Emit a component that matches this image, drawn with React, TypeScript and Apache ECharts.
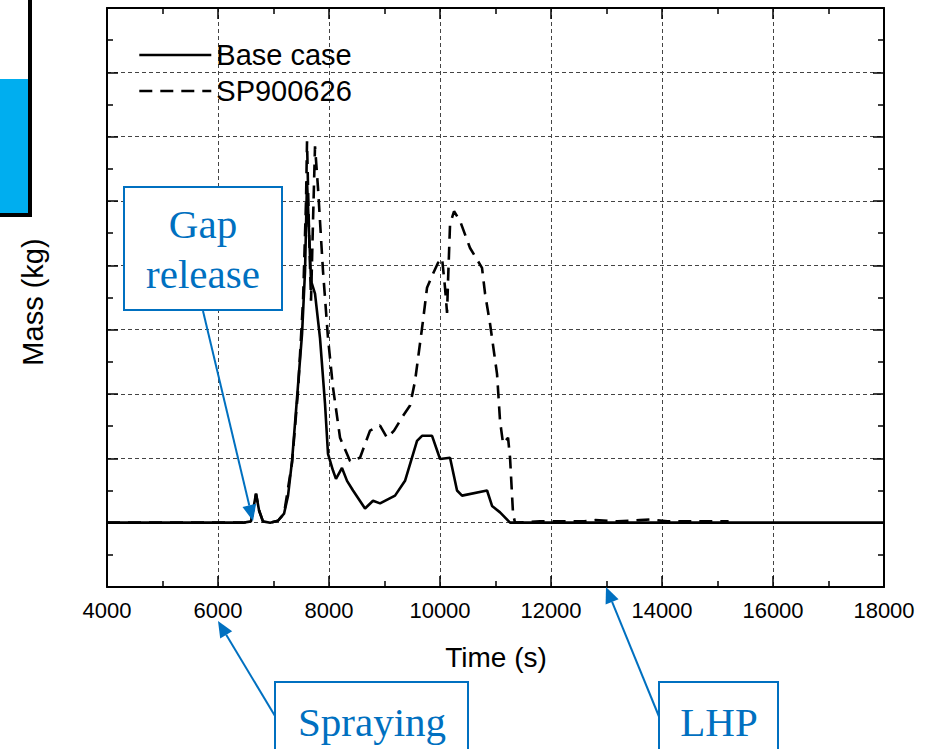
import React, { useEffect, useRef } from "react";
import * as echarts from "echarts";

const baseTime = [4000, 6450, 6595, 6685, 6740, 6810, 6940, 7080, 7190, 7262, 7334, 7424, 7514, 7568, 7604, 7640, 7676, 7748, 7838, 7928, 7982, 8072, 8126, 8234, 8325, 8433, 8649, 8793, 8920, 9190, 9370, 9586, 9676, 9857, 10001, 10181, 10307, 10397, 10848, 10938, 11082, 11262, 18000];
const baseMass = [0, 0, 0.02, 0.45, 0.19, 0.02, 0, 0.03, 0.14, 0.42, 0.96, 1.94, 2.93, 3.91, 5.31, 4.53, 3.76, 3.56, 2.87, 1.85, 1.07, 0.81, 0.68, 0.85, 0.65, 0.5, 0.22, 0.34, 0.3, 0.42, 0.65, 1.27, 1.35, 1.35, 0.99, 1.01, 0.5, 0.42, 0.5, 0.26, 0.16, 0, 0];

const spTime = [4000, 6450, 6595, 6685, 6740, 6810, 6940, 7080, 7190, 7334, 7442, 7532, 7586, 7604, 7640, 7676, 7712, 7748, 7802, 7892, 7982, 8072, 8199, 8379, 8559, 8739, 8920, 9046, 9172, 9334, 9460, 9550, 9694, 9766, 9874, 9965, 10037, 10091, 10127, 10145, 10181, 10253, 10361, 10541, 10757, 10812, 10902, 11028, 11082, 11136, 11226, 11262, 11316, 11352, 11800, 12600, 12800, 13200, 13600, 13800, 14100, 14600, 15200];
const spMass = [0, 0, 0.02, 0.45, 0.19, 0.02, 0, 0.03, 0.14, 0.93, 2.05, 3.45, 5.0, 5.93, 4.53, 3.45, 4.69, 5.85, 5.2, 3.91, 2.87, 2.1, 1.32, 0.96, 1.01, 1.43, 1.51, 1.32, 1.43, 1.66, 1.82, 2.2, 3.14, 3.65, 3.87, 4.04, 4.11, 3.65, 3.26, 3.76, 4.64, 4.84, 4.69, 4.27, 3.96, 3.56, 3.09, 2.31, 1.58, 1.23, 1.32, 1.01, 0.14, 0, 0.02, 0.02, 0.04, 0.02, 0.04, 0.05, 0.02, 0.02, 0.02];

const seriesNames = ["Base case", "SP900626"];
const xRange = { min: 4000, max: 18000, interval: 2000 };
const yRange = { min: -1, max: 8, interval: 1 };

const BLUE = "#0070C0";
const SANS = "Arial, 'Liberation Sans', sans-serif";
const SERIF = "'Times New Roman', 'Liberation Serif', serif";

function zip(a: number[], b: number[]) {
  return a.map((t, i) => [t, b[i]]);
}

export default function App() {
  const ref = useRef<HTMLDivElement>(null);
  useEffect(() => {
    if (!ref.current) return;
    const chart = echarts.init(ref.current, null, { renderer: "svg" });
    const tickMajor = { show: true, inside: true, length: 11, lineStyle: { color: "#000", width: 1.5 } };
    const tickMinor = { show: true, splitNumber: 2, length: 6, lineStyle: { color: "#000", width: 1.5 } };
    const axisLine = { show: true, onZero: false, lineStyle: { color: "#000", width: 2 } };
    const grid = { type: [4, 3], color: "#444", width: 1 };
    chart.setOption({
      animation: false,
      backgroundColor: "#fff",
      grid: { left: 107, right: 45, top: 8, bottom: 162, containLabel: false },
      legend: {
        show: true,
        orient: "vertical",
        left: 138,
        top: 40,
        padding: 0,
        itemWidth: 72,
        itemHeight: 30,
        itemGap: 6,
        itemStyle: { opacity: 0 },
        lineStyle: { width: 2.6 },
        textStyle: { fontFamily: SANS, fontSize: 29, color: "#000", lineHeight: 30 },
        data: seriesNames,
      },
      xAxis: [
        {
          type: "value",
          position: "bottom",
          ...xRange,
          axisLine,
          axisTick: tickMajor,
          minorTick: tickMinor,
          axisLabel: { show: true, margin: 12, fontFamily: SANS, fontSize: 22, color: "#000", formatter: (v: number) => String(v) },
          splitLine: { show: true, lineStyle: grid },
        },
        {
          type: "value",
          position: "top",
          ...xRange,
          axisLine,
          axisTick: tickMajor,
          minorTick: tickMinor,
          axisLabel: { show: false },
          splitLine: { show: false },
        },
      ],
      yAxis: [
        {
          type: "value",
          position: "left",
          ...yRange,
          axisLine,
          axisTick: tickMajor,
          minorTick: tickMinor,
          axisLabel: { show: false },
          splitLine: { show: true, lineStyle: grid },
        },
        {
          type: "value",
          position: "right",
          ...yRange,
          axisLine,
          axisTick: tickMajor,
          minorTick: tickMinor,
          axisLabel: { show: false },
          splitLine: { show: false },
        },
      ],
      series: [
        {
          name: seriesNames[0],
          type: "line",
          data: zip(baseTime, baseMass),
          showSymbol: false,
          symbol: "none",
          lineStyle: { color: "#000", width: 2.6, type: "solid" },
          itemStyle: { color: "#000" },
          z: 3,
        },
        {
          name: seriesNames[1],
          type: "line",
          data: zip(spTime, spMass),
          showSymbol: false,
          symbol: "none",
          lineStyle: { color: "#000", width: 2.6, type: [13, 8] },
          itemStyle: { color: "#000" },
          z: 4,
        },
      ],
      graphic: [
        // top-left partial box
        { type: "rect", shape: { x: -10, y: -10, width: 40, height: 225 }, style: { fill: "#fff", stroke: "#000", lineWidth: 4 }, z: 10 },
        { type: "rect", shape: { x: 0, y: 79, width: 28, height: 134 }, style: { fill: "#00AEEF" }, z: 11 },
        // axis titles
        { type: "text", x: 496, y: 657, style: { text: "Time (s)", font: `28px ${SANS}`, fill: "#000", align: "center", verticalAlign: "middle" }, z: 10 },
        { type: "text", x: 33, y: 302, rotation: Math.PI / 2, style: { text: "Mass (kg)", font: `29px ${SANS}`, fill: "#000", align: "center", verticalAlign: "middle" }, z: 10 },
        // Gap release annotation
        { type: "line", shape: { x1: 203, y1: 311, x2: 249.3, y2: 505.4 }, style: { stroke: BLUE, lineWidth: 2 }, z: 20 },
        { type: "polygon", shape: { points: [[253, 521], [242.5, 507], [256.1, 503.8]] }, style: { fill: BLUE }, z: 20 },
        { type: "rect", shape: { x: 124, y: 187, width: 158, height: 123 }, style: { fill: "#fff", stroke: BLUE, lineWidth: 2 }, z: 20 },
        { type: "text", x: 203, y: 224, style: { text: "Gap", font: `41px ${SERIF}`, fill: BLUE, align: "center", verticalAlign: "middle" }, z: 21 },
        { type: "text", x: 203, y: 274, style: { text: "release", font: `41px ${SERIF}`, fill: BLUE, align: "center", verticalAlign: "middle" }, z: 21 },
        // Spraying annotation
        { type: "line", shape: { x1: 275, y1: 716, x2: 226.2, y2: 634.8 }, style: { stroke: BLUE, lineWidth: 2 }, z: 20 },
        { type: "polygon", shape: { points: [[218, 621], [232.2, 631.2], [220.2, 638.4]] }, style: { fill: BLUE }, z: 20 },
        { type: "rect", shape: { x: 275, y: 682, width: 193, height: 90 }, style: { fill: "#fff", stroke: BLUE, lineWidth: 2 }, z: 20 },
        { type: "text", x: 372, y: 722, style: { text: "Spraying", font: `41px ${SERIF}`, fill: BLUE, align: "center", verticalAlign: "middle" }, z: 21 },
        // LHP annotation
        { type: "line", shape: { x1: 659.6, y1: 718, x2: 612.1, y2: 601.8 }, style: { stroke: BLUE, lineWidth: 2 }, z: 20 },
        { type: "polygon", shape: { points: [[606, 587], [618.6, 599.2], [605.6, 604.5]] }, style: { fill: BLUE }, z: 20 },
        { type: "rect", shape: { x: 659, y: 682, width: 119, height: 90 }, style: { fill: "#fff", stroke: BLUE, lineWidth: 2 }, z: 20 },
        { type: "text", x: 719, y: 722, style: { text: "LHP", font: `41px ${SERIF}`, fill: BLUE, align: "center", verticalAlign: "middle" }, z: 21 },
      ],
    });
    return () => chart.dispose();
  }, []);
  return <div ref={ref} style={{ width: 929, height: 749, position: "absolute", left: 0, top: 0 }} />;
}
